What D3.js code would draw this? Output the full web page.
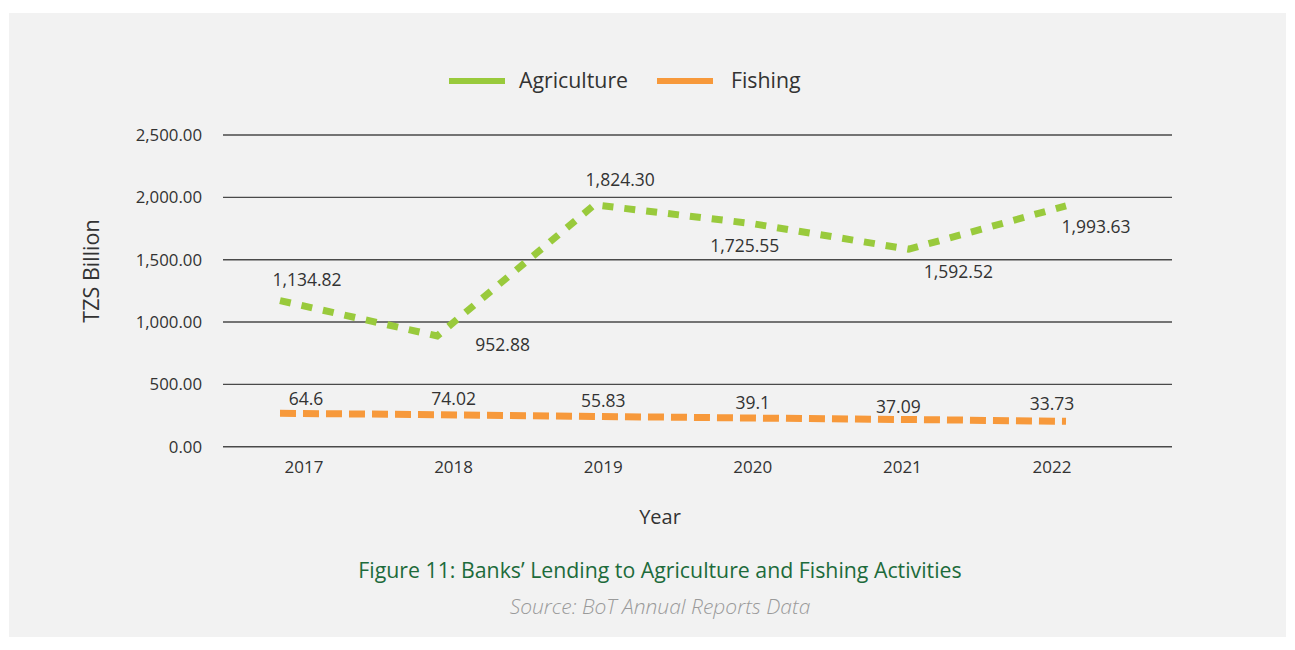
<!DOCTYPE html>
<html>
<head>
<meta charset="utf-8">
<script src="https://cdn.jsdelivr.net/npm/d3@7/dist/d3.min.js"></script>
<style>
  html, body { margin: 0; padding: 0; background: #ffffff; }
  svg { display: block; }
  text { font-family: "Open Sans", "Noto Sans", sans-serif; }
</style>
</head>
<body>
<svg id="chart" width="1295" height="650"></svg>
<script>
// ---- data ----
const years = ["2017", "2018", "2019", "2020", "2021", "2022"];
// plotted positions as drawn in the reference (TZS Billion)
const agriculture = [1172, 888, 1940, 1790, 1584, 1932];
const fishing = [268, 257, 243, 230, 218, 204];
// printed data labels
const agricultureLabels = ["1,134.82", "952.88", "1,824.30", "1,725.55", "1,592.52", "1,993.63"];
const fishingLabels = ["64.6", "74.02", "55.83", "39.1", "37.09", "33.73"];
const yTicks = [0, 500, 1000, 1500, 2000, 2500];
const seriesNames = ["Agriculture", "Fishing"];

// ---- layout / style ----
const colors = { Agriculture: "#99ca3c", Fishing: "#f7993b" };
// label offsets [dx from tick position, dy from line point]
const agriLabelOffsets = [[3, -15], [49, 15], [17, -19], [-8, 28], [56, 29], [44, 27]];
const fishLabelOffsets = [[2, -8], [0, -10], [0, -9], [0, -9], [-4, -7], [0, -11]];

const svg = d3.select("#chart");

svg.append("rect").attr("x", 9).attr("y", 13).attr("width", 1277).attr("height", 624)
  .attr("fill", "#f2f2f2");

const y = d3.scaleLinear().domain([0, 2500]).range([446.7, 135]);
const xLine = d3.scalePoint().domain(years).range([280, 1066]);
const xTick = d3.scalePoint().domain(years).range([304, 1052]);
const plotLeft = 223, plotRight = 1172;

// gridlines
svg.append("g").selectAll("line").data(yTicks).join("line")
  .attr("x1", plotLeft).attr("x2", plotRight)
  .attr("y1", d => y(d)).attr("y2", d => y(d))
  .attr("stroke", "#4a4a4a").attr("stroke-width", 1.4);

// y axis tick labels
const fmt = d3.format(",.2f");
svg.append("g").selectAll("text").data(yTicks).join("text")
  .attr("x", 202).attr("y", d => y(d)).attr("dy", "0.35em")
  .attr("text-anchor", "end").attr("font-size", 16.8).attr("fill", "#333")
  .text(d => fmt(d));

// x tick labels
svg.append("g").selectAll("text").data(years).join("text")
  .attr("x", d => xTick(d)).attr("y", 467).attr("dy", "0.35em")
  .attr("text-anchor", "middle").attr("font-size", 17).attr("fill", "#333")
  .text(d => d);

// axis titles
svg.append("text").attr("transform", "translate(91,271) rotate(-90)")
  .attr("text-anchor", "middle").attr("dy", "0.35em")
  .attr("font-size", 21.5).attr("fill", "#333").text("TZS Billion");
svg.append("text").attr("x", 660).attr("y", 517).attr("dy", "0.35em")
  .attr("text-anchor", "middle").attr("font-size", 20).attr("fill", "#333").text("Year");

// lines
const line = d3.line().x((d, i) => xLine(years[i])).y(d => y(d));
svg.append("path").datum(fishing).attr("d", line)
  .attr("fill", "none").attr("stroke", colors.Fishing).attr("stroke-width", 7)
  .attr("stroke-dasharray", "16 7");
svg.append("path").datum(agriculture).attr("d", line)
  .attr("fill", "none").attr("stroke", colors.Agriculture).attr("stroke-width", 7)
  .attr("stroke-dasharray", "11 11");

// data labels
svg.append("g").selectAll("text").data(agricultureLabels).join("text")
  .attr("x", (d, i) => xTick(years[i]) + agriLabelOffsets[i][0])
  .attr("y", (d, i) => y(agriculture[i]) + agriLabelOffsets[i][1])
  .attr("text-anchor", "middle").attr("font-size", 17.5).attr("fill", "#333")
  .text(d => d);
svg.append("g").selectAll("text").data(fishingLabels).join("text")
  .attr("x", (d, i) => xTick(years[i]) + fishLabelOffsets[i][0])
  .attr("y", (d, i) => y(fishing[i]) + fishLabelOffsets[i][1])
  .attr("text-anchor", "middle").attr("font-size", 17.5).attr("fill", "#333")
  .text(d => d);

// legend
const legendX = d3.scaleOrdinal().domain(seriesNames).range([449, 657]);
const legendTextDx = d3.scaleOrdinal().domain(seriesNames).range([70, 74]);
const lg = svg.append("g").selectAll("g").data(seriesNames).join("g")
  .attr("transform", d => `translate(${legendX(d)},81)`);
lg.append("line").attr("x1", 0).attr("x2", 56).attr("y1", 0).attr("y2", 0)
  .attr("stroke", d => colors[d]).attr("stroke-width", 6);
lg.append("text").attr("x", d => legendTextDx(d)).attr("dy", "0.35em").attr("font-size", 21.3)
  .attr("fill", "#333").text(d => d);

// caption
svg.append("text").attr("x", 660).attr("y", 571).attr("dy", "0.35em")
  .attr("text-anchor", "middle").attr("font-size", 21.3).attr("fill", "#1d6b3b")
  .text("Figure 11: Banks’ Lending to Agriculture and Fishing Activities");
svg.append("text").attr("x", 660).attr("y", 607).attr("dy", "0.35em")
  .attr("text-anchor", "middle").attr("font-size", 21).attr("font-style", "italic")
  .attr("font-weight", 300).attr("fill", "#9a9a9a")
  .text("Source: BoT Annual Reports Data");
</script>
</body>
</html>
